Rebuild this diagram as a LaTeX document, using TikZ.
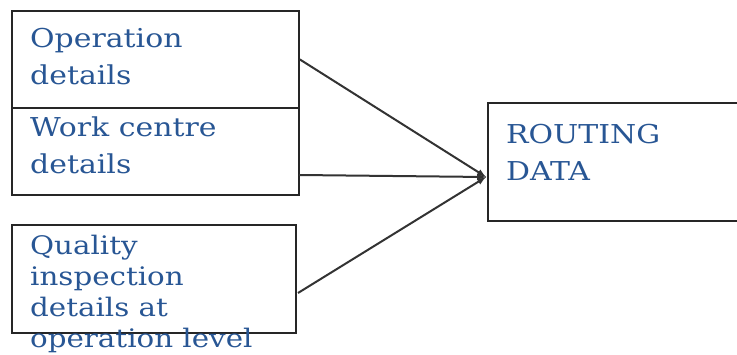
\documentclass[tikz,border=0pt]{standalone}
\usepackage{fontspec}
\setmainfont[FakeStretch=1.15]{DejaVu Serif}
\usetikzlibrary{positioning,arrows}
\definecolor{txtblue}{RGB}{40,86,148}

\begin{document}
\begin{tikzpicture}[x=1pt,y=-1pt,
		  box/.style={draw=black!85,line width=1.7pt,inner sep=0pt,anchor=north west},
		  lbl/.style={text=txtblue,align=left,inner sep=0pt,font=\fontsize{26}{37}\selectfont},
		  link/.style={draw=black!80,line width=2pt,-latex}
		]
		\useasboundingbox (0,0) rectangle (737,355);
		\node[box,minimum width=287pt,minimum height=97pt] (op) at (11,10) {};
		\node[box,minimum width=287pt,minimum height=87pt] (wc) at (11,107) {};
		\node[box,minimum width=284pt,minimum height=108pt] (qi) at (11,224) {};
		\node[box,minimum width=262pt,minimum height=118pt] (rd) at (487,102) {};
		\node[lbl,below right=18pt and 19pt of op.north west] (optxt) {Operation\\details};
		\node[lbl,below right=10pt and 19pt of wc.north west] (wctxt) {Work centre\\details};
		\node[lbl,below right=11pt and 19pt of qi.north west,font=\fontsize{25.5}{31}\selectfont] (qitxt) {Quality\\inspection\\details at\\operation level};
		\node[lbl,below right=22pt and 19pt of rd.north west] (rdtxt) {ROUTING\\DATA};
		\coordinate (tip) at (486,177);
		\coordinate (wcout) at (299,175);
		\coordinate (qiout) at (298,293);
		\path (op.east) edge[link] (tip)
			(wcout) edge[link] (tip)
			(qiout) edge[link] (tip);
		\end{tikzpicture}
\end{document}
